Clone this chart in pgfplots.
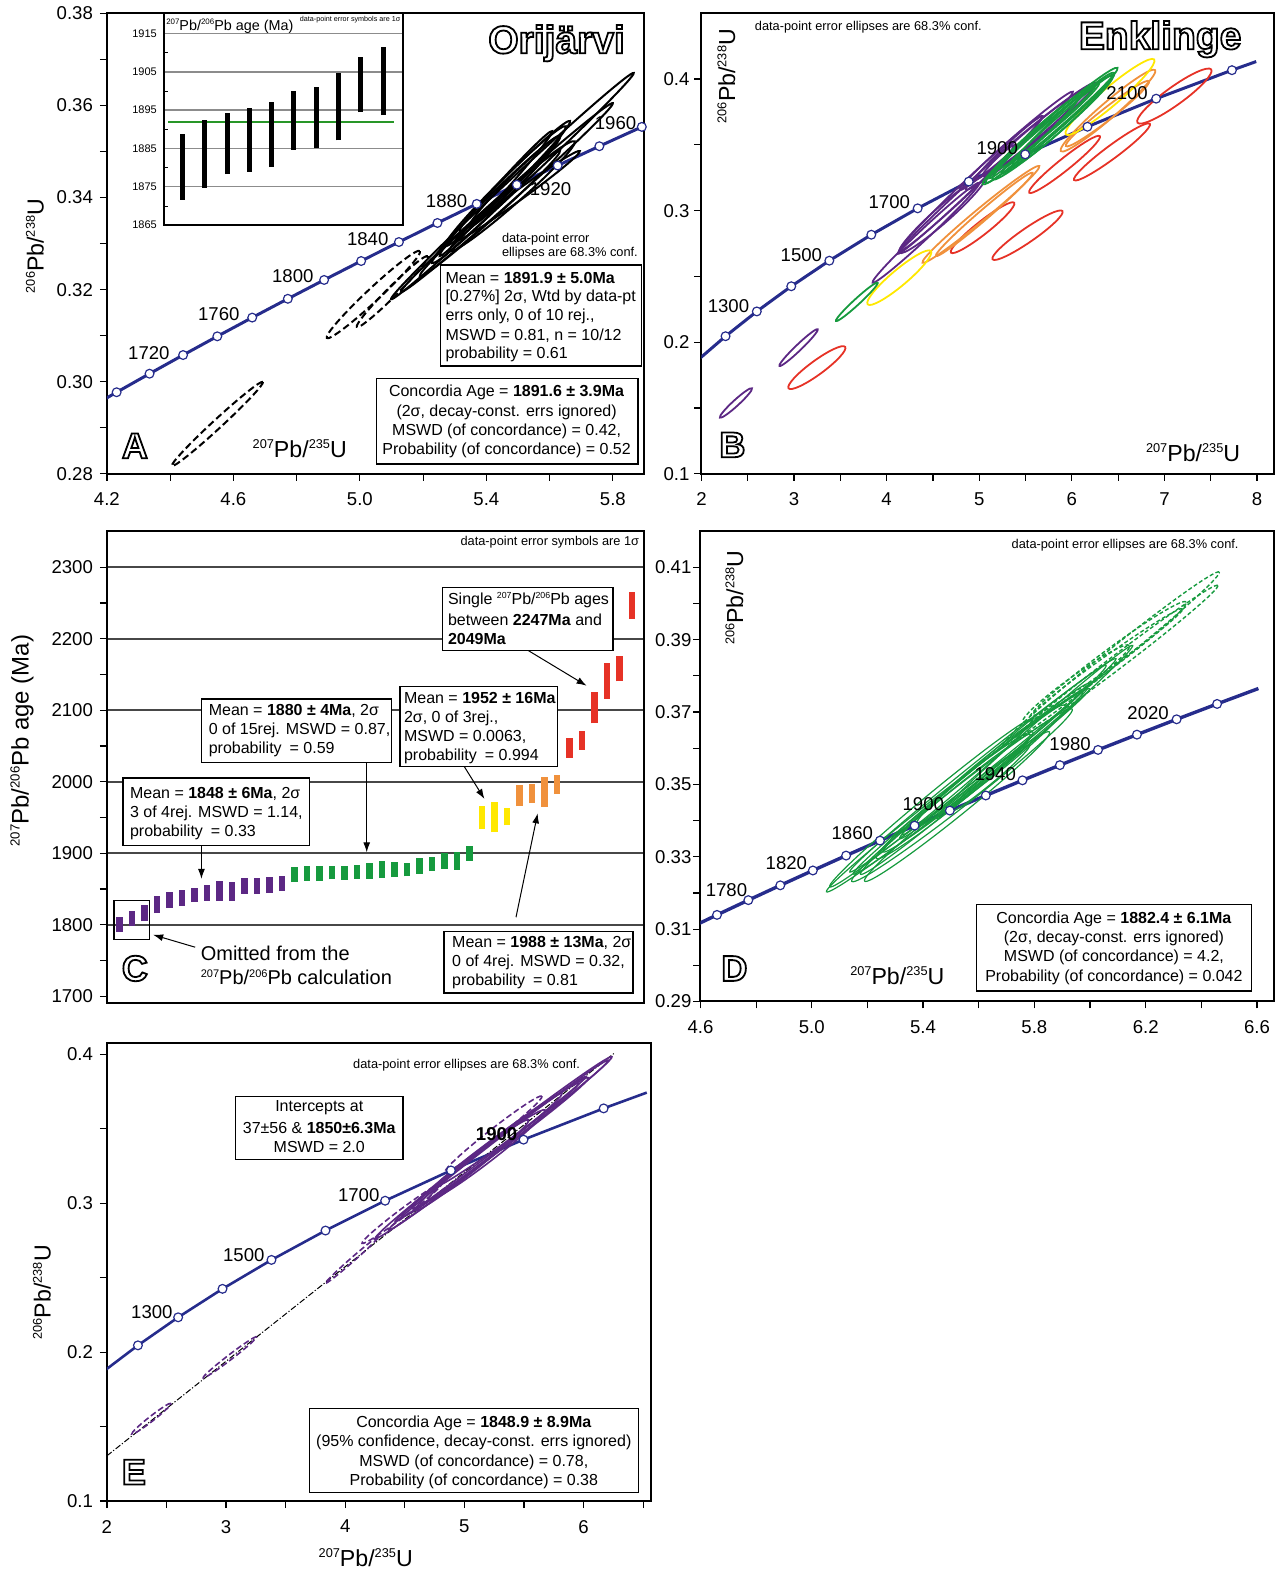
\documentclass[border=0pt]{standalone}
\usepackage{fontspec}
\setmainfont{Liberation Sans}
\usepackage{graphicx}
\usepackage{pgfplots}
\pgfplotsset{compat=1.18}
\usetikzlibrary{arrows.meta}

\definecolor{conc}{RGB}{38,44,140}
\definecolor{ppl}{RGB}{92,40,132}
\definecolor{grn}{RGB}{22,154,62}
\definecolor{ylw}{RGB}{255,232,0}
\definecolor{org}{RGB}{240,145,60}
\definecolor{rd}{RGB}{230,50,38}
\definecolor{igreen}{RGB}{40,150,40}

\newcommand\fs[1]{\fontsize{#1}{#1}\selectfont}
\newcommand\sps[1]{\raisebox{0.38em}{\scalebox{0.55}{#1}}}
% outlined letters (PDF text render mode 1 = stroke only)
\newcommand\outl[4]{%
  \node[font=\fs{#3}\bfseries,inner sep=0] at (#1,#2)
    {\special{pdf:literal direct 1 Tr 0.9 w}#4\special{pdf:literal direct 0 Tr}};}

\pgfdeclareplotmark{nil}{}
\pgfplotsset{
  panel/.style={anchor=south west, scale only axis,
    axis line style={line width=1pt}, tick style={black, line width=0.6pt},
    tick align=outside, major tick length=3.5pt, minor tick length=3.5pt,
    tick pos=left, ticklabel style={font=\fs{9.3}}, xticklabel style={yshift=-2.5pt},
    /pgf/number format/assume math mode=true, /pgf/number format/1000 sep={}},
  % error ellipse: centre in data, half axes a,b in px, angle t in degrees
  ell/.style n args={3}{scatter, only marks, mark=nil, point meta=y,
    visualization depends on={value \thisrow{a}\as\ellA},
    visualization depends on={value \thisrow{b}\as\ellB},
    visualization depends on={value \thisrow{t}\as\ellT},
    scatter/@pre marker code/.code={\pgfscope\pgfsetlinewidth{#1}#2\pgfsetstrokecolor{#3}%
      \pgftransformrotate{\ellT}\pgftransformscale{0.5}%
      \pgfpathellipse{\pgfpointorigin}{\pgfqpoint{\ellA pt}{0pt}}{\pgfqpoint{0pt}{\ellB pt}}%
      \pgfusepath{stroke}\endpgfscope},
    scatter/@post marker code/.code={}},
  concline/.style={color=conc, line width=1.5pt},
  concdots/.style={only marks, mark=*, mark size=2.2pt,
    mark options={fill=white, draw=conc, line width=0.6pt}},
  bars/.style={line width=#1, unbounded coords=jump},
}

\begin{document}
\begin{tikzpicture}
\begin{scope}[x=0.5pt,y=-0.5pt]
\useasboundingbox (0,0) rectangle (1278,1570);
\end{scope}

% ================= A
\begin{axis}[panel, at={(53.5pt,-236.5pt)}, width=269pt, height=230.5pt,
  xmin=4.2, xmax=5.9, ymin=0.28, ymax=0.38,
  xtick={4.2,4.6,5.0,5.4,5.8}, minor xtick={4.4,4.8,5.2,5.6},
  ytick={0.28,0.30,0.32,0.34,0.36,0.38}, minor ytick={0.29,0.31,0.33,0.35,0.37},
  xticklabel style={/pgf/number format/.cd,fixed,fixed zerofill,precision=1},
  yticklabel style={/pgf/number format/.cd,fixed,fixed zerofill,precision=2}]
\addplot[ell={1pt}{}{black}] table[row sep=\\] {
x y a b t\\
5.4822 0.34247 166 6 43\\
5.4648 0.33998 142 6 41.7\\
5.4601 0.34247 85 7 44.8\\
5.4300 0.33954 90 7 44.8\\
5.4822 0.34030 83 8 41.3\\
5.4111 0.33651 94 6 41.8\\
5.4901 0.34464 78 6 45\\
5.4300 0.34085 84 5 48\\
5.4980 0.34030 77 5 35.8\\
5.4901 0.34356 64 6 45\\
};
\addplot[ell={1pt}{\pgfsetdash{{3.5pt}{1.8pt}}{0pt}}{black}] table[row sep=\\] {
x y a b t\\
5.0427 0.31894 63.7 6.5 43.1\\
5.1028 0.31959 50.2 5 45\\
4.5494 0.29085 62 4.5 42.7\\
};
\addplot[concline] coordinates {(4.1287,0.29370)(4.2307,0.29772)(4.3348,0.30175)(4.4409,0.30580)
 (4.5491,0.30986)(4.6595,0.31393)(4.7721,0.31801)(4.8869,0.32210)(5.0040,0.32621)(5.1234,0.33033)
 (5.2452,0.33447)(5.3695,0.33861)(5.4962,0.34277)(5.6254,0.34694)(5.7572,0.35113)(5.8916,0.35533)};
\addplot[concdots] coordinates {(4.2307,0.29772)(4.3348,0.30175)(4.4409,0.30580)
 (4.5491,0.30986)(4.6595,0.31393)(4.7721,0.31801)(4.8869,0.32210)(5.0040,0.32621)(5.1234,0.33033)
 (5.2452,0.33447)(5.3695,0.33861)(5.4962,0.34277)(5.6254,0.34694)(5.7572,0.35113)(5.8916,0.35533)};
\end{axis}

% inset of A
\begin{axis}[anchor=south west, scale only axis, at={(82pt,-112pt)}, width=119.7pt, height=106pt,
  xmin=0.16, xmax=10.9, ymin=1865, ymax=1920.3, xtick=\empty,
  ytick={1865,1875,1885,1895,1905,1915}, minor ytick={1870,1880,1890,1900,1910},
  ymajorgrids, major grid style={black!45, line width=0.7pt},
  tick align=inside, major tick length=0pt, minor tick length=2pt, ytick pos=left,
  tick style={black, line width=0.4pt}, axis line style={line width=0.9pt},
  axis background/.style={fill=white}, yticklabel style={font=\fs{5.5}},
  /pgf/number format/assume math mode=true, /pgf/number format/1000 sep={}]
\addplot[igreen, line width=0.9pt] coordinates {(0.35,1891.9)(10.5,1891.9)};
\addplot[black, bars=2.5pt] coordinates {
 (1,1871.6)(1,1888.7)(1,nan)(2,1874.8)(2,1892.4)(2,nan)(3,1878.3)(3,1894.2)(3,nan)
 (4,1878.9)(4,1895.6)(4,nan)(5,1880.1)(5,1897.0)(5,nan)(6,1884.6)(6,1900.0)(6,nan)
 (7,1885.1)(7,1901.0)(7,nan)(8,1887.1)(8,1904.6)(8,nan)(9,1894.5)(9,1908.9)(9,nan)
 (10,1893.7)(10,1911.6)};
\end{axis}

% ================= B
\begin{axis}[panel, at={(351pt,-236.5pt)}, width=286.5pt, height=230.5pt,
  xmin=2, xmax=8.183, ymin=0.1, ymax=0.45,
  xtick={2,3,4,5,6,7,8}, minor xtick={2.5,3.5,4.5,5.5,6.5,7.5},
  ytick={0.1,0.2,0.3,0.4}, minor ytick={0.15,0.25,0.35},
  yticklabel style={xshift=1pt,/pgf/number format/.cd,fixed,precision=1}]
\addplot[ell={0.9pt}{}{rd}] table[row sep=\\] {
x y a b t\\
7.107 0.38706 45.5 9 35.8\\
6.4335 0.34463 47.2 6.5 36.6\\
5.9209 0.33514 45.3 6 38.7\\
5.0360 0.28705 40.3 6.5 38.3\\
5.5216 0.28135 42.5 7 34.6\\
3.2465 0.18075 35.1 7 36.2\\
};
\addplot[ell={0.9pt}{}{org}] table[row sep=\\] {
x y a b t\\
6.3903 0.37601 62.2 8 40.7\\
6.3849 0.37373 52.8 6 38\\
5.0180 0.29717 75.8 6 39.6\\
5.0539 0.29717 63.8 5 40.7\\
};
\addplot[ell={0.9pt}{}{ppl}] table[row sep=\\] {
x y a b t\\
4.91 0.32058 98.4 6 43.3\\
4.4245 0.28325 73.1 5 43.1\\
5.5576 0.35665 84.1 7 39.4\\
4.6043 0.29717 57.9 8 41.5\\
5.5935 0.35918 67.4 6 40\\
5.3237 0.34779 46 4 43.5\\
4.75 0.3085 80 4 43\\
5.40 0.3530 75 5 41\\
3.0486 0.19593 26.5 3 43.8\\
2.3723 0.15388 21.7 3 42.5\\
};
\addplot[ell={0.9pt}{}{ylw}] table[row sep=\\] {
x y a b t\\
6.4119 0.38639 58 9 40.3\\
4.1367 0.24908 41.4 8 40.1\\
};
\addplot[ell={0.9pt}{}{grn}] table[row sep=\\] {
x y a b t\\
3.6781 0.23073 28.3 3 42.6\\
5.7644 0.36424 89.2 7 40.8\\
5.7914 0.36297 79.2 8 40.7\\
5.9083 0.3693 69 7 42.5\\
5.7374 0.36424 67.4 6 40\\
5.5755 0.35412 63.7 6 42.9\\
5.85 0.3660 75 5 41.5\\
5.68 0.3595 70 4 41\\
};
\addplot[concline] coordinates {(1.9545,0.18606)(2.2603,0.20460)(2.5978,0.22343)(2.9701,0.24256)
 (3.3810,0.26199)(3.8344,0.28172)(4.3348,0.30175)(4.8869,0.32210)(5.4962,0.34277)(6.1685,0.36377)
 (6.9105,0.38509)(7.7292,0.40674)(7.9910,0.41330)};
\addplot[concdots] coordinates {(2.2603,0.20460)(2.5978,0.22343)(2.9701,0.24256)
 (3.3810,0.26199)(3.8344,0.28172)(4.3348,0.30175)(4.8869,0.32210)(5.4962,0.34277)(6.1685,0.36377)
 (6.9105,0.38509)(7.7292,0.40674)};
\end{axis}

% ================= C
\begin{axis}[panel, at={(53.5pt,-501.5pt)}, width=269pt, height=236.5pt,
  xmin=0, xmax=43, ymin=1690, ymax=2351, xtick=\empty,
  ytick={1800,1900,2000,2100,2200,2300}, minor ytick={1750,1850,1950,2050,2150,2250},
  extra y ticks={1700}, extra y tick style={grid=none},
  ymajorgrids, major grid style={black!72, line width=0.9pt}]
\addplot[ppl, bars=3.1pt] coordinates {
 (1,1789.7)(1,1810.7)(1,nan)(2,1797.7)(2,1819.1)(2,nan)(3,1804.7)(3,1828.4)(3,nan)
 (4,1816.3)(4,1840.1)(4,nan)(5,1823.8)(5,1845.7)(5,nan)(6,1826.1)(6,1848.9)(6,nan)
 (7,1831.7)(7,1851.7)(7,nan)(8,1834.0)(8,1855.0)(8,nan)(9,1833.1)(9,1861.0)(9,nan)
 (10,1834.0)(10,1859.7)(10,nan)(11,1843.3)(11,1865.2)(11,nan)(12,1843.3)(12,1865.2)(12,nan)
 (13,1844.3)(13,1866.6)(13,nan)(14,1847.1)(14,1867.6)};
\addplot[grn, bars=3.1pt] coordinates {
 (15,1859.7)(15,1880.6)(15,nan)(16,1861.9)(16,1882.0)(16,nan)(17,1861.0)(17,1882.9)(17,nan)
 (18,1863.4)(18,1882.9)(18,nan)(19,1862.9)(19,1882.9)(19,nan)(20,1864.3)(20,1884.3)(20,nan)
 (21,1864.3)(21,1886.2)(21,nan)(22,1865.7)(22,1889.0)(22,nan)(23,1866.6)(23,1887.6)(23,nan)
 (24,1867.6)(24,1886.7)(24,nan)(25,1871.3)(25,1893.2)(25,nan)(26,1875.0)(26,1895.5)(26,nan)
 (27,1878.3)(27,1900.2)(27,nan)(28,1876.9)(28,1901.6)(28,nan)(29,1889.9)(29,1910.9)};
\addplot[ylw, bars=3.1pt] coordinates {
 (30,1934.2)(30,1966.8)(30,nan)(31,1929.5)(31,1972.4)(31,nan)(32,1938.9)(32,1963.6)};
\addplot[org, bars=3.1pt] coordinates {
 (33,1965.9)(33,1995.7)(33,nan)(34,1970.1)(34,1997.1)(34,nan)(35,1965.4)(35,2006.4)(35,nan)
 (36,1983.1)(36,2009.7)};
\addplot[rd, bars=3.1pt] coordinates {
 (37,2033.4)(37,2061.4)(37,nan)(38,2044.6)(38,2071.7)(38,nan)(39,2081.9)(39,2125.3)(39,nan)
 (40,2115.9)(40,2165.8)(40,nan)(41,2140.6)(41,2176.5)(41,nan)(42,2227.8)(42,2265.0)};
\end{axis}

% ================= D
\begin{axis}[panel, at={(350.5pt,-500.5pt)}, width=287pt, height=235.5pt,
  xmin=4.6, xmax=6.661, ymin=0.29, ymax=0.4201,
  xtick={4.6,5.0,5.4,5.8,6.2,6.6}, minor xtick={4.8,5.2,5.6,6.0,6.4},
  ytick={0.29,0.31,0.33,0.35,0.37,0.39,0.41}, minor ytick={0.30,0.32,0.34,0.36,0.38,0.40},
  xticklabel style={/pgf/number format/.cd,fixed,fixed zerofill,precision=1},
  yticklabel style={xshift=2.5pt,/pgf/number format/.cd,fixed,fixed zerofill,precision=2}]
\addplot[ell={0.6pt}{}{grn}] table[row sep=\\] {
x y a b t\\
5.5252 0.34839 166.3 8 37.7\\
5.5222 0.34388 118.9 9 38.9\\
5.4295 0.34493 132 8 39.6\\
5.615 0.35529 170.7 7 38.7\\
5.615 0.35345 128 8 38.7\\
5.5132 0.347 100.7 9 38.9\\
5.6868 0.35897 134.9 7 40\\
5.6449 0.35529 96 10 38.7\\
5.6389 0.35161 52 5 39.8\\
5.8005 0.3645 131 6 41.4\\
5.57 0.3510 150 7 38.5\\
5.48 0.3445 110 7 39.5\\
5.66 0.3570 120 6 39\\
5.54 0.3470 140 10 38\\
};
\addplot[ell={0.7pt}{\pgfsetdash{{2pt}{1.2pt}}{0pt}}{grn}] table[row sep=\\] {
x y a b t\\
6.0758 0.38476 138.7 8 38.7\\
6.0967 0.38384 126.7 7 37.2\\
6.0638 0.3843 97.7 9 36.7\\
6.0638 0.38384 92 6 35.4\\
5.9501 0.37785 65.7 8 35.7\\
};
\addplot[concline, line width=1.7pt] coordinates {(4.5491,0.30986)(4.6595,0.31393)(4.7721,0.31801)
 (4.8869,0.32210)(5.0040,0.32621)(5.1234,0.33033)(5.2452,0.33447)(5.3695,0.33861)(5.4962,0.34277)
 (5.6254,0.34694)(5.7572,0.35113)(5.8916,0.35533)(6.0287,0.35954)(6.1685,0.36376)(6.3111,0.36800)
 (6.4566,0.37225)(6.6049,0.37651)};
\addplot[concdots] coordinates {(4.6595,0.31393)(4.7721,0.31801)
 (4.8869,0.32210)(5.0040,0.32621)(5.1234,0.33033)(5.2452,0.33447)(5.3695,0.33861)(5.4962,0.34277)
 (5.6254,0.34694)(5.7572,0.35113)(5.8916,0.35533)(6.0287,0.35954)(6.1685,0.36376)(6.3111,0.36800)
 (6.4566,0.37225)};
\end{axis}

% ================= E
\begin{axis}[panel, at={(53.5pt,-750.5pt)}, width=272.5pt, height=229pt,
  xmin=2, xmax=6.57, ymin=0.1, ymax=0.4074,
  xtick={2,3,4,5,6}, minor xtick={2.5,3.5,4.5,5.5,6.5},
  ytick={0.1,0.2,0.3,0.4}, minor ytick={0.15,0.25,0.35},
  yticklabel style={/pgf/number format/.cd,fixed,precision=1}]
\addplot[black, line width=0.5pt, dash pattern=on 3pt off 1pt on 0.6pt off 1pt] coordinates {(2,0.1304)(6.26,0.4010)};
\addplot[ell={0.8pt}{}{ppl}] table[row sep=\\] {
x y a b t\\
5.2453 0.33747 149.2 6 37.5\\
5.2873 0.33915 139 5 37.7\\
5.1475 0.33244 101 6 37.6\\
5.1894 0.33244 73.7 7 37.6\\
5.0637 0.32573 72.4 6 38.5\\
5.3572 0.34586 88.3 5 35.8\\
5.22 0.3365 120 4 37.2\\
5.30 0.3405 110 6 36.5\\
};
\addplot[ell={0.8pt}{\pgfsetdash{{3pt}{1.5pt}}{0pt}}{ppl}] table[row sep=\\] {
x y a b t\\
5.2453 0.34664 61.4 5 38\\
4.4766 0.29328 50 4 36.9\\
4.0573 0.26197 35.5 2 41.2\\
3.0324 0.19659 33.7 2.5 37.5\\
2.374 0.15537 24.9 2.5 38\\
};
\addplot[concline, line width=1.3pt] coordinates {(1.9545,0.18606)(2.2603,0.20460)(2.5978,0.22343)
 (2.9701,0.24256)(3.3810,0.26199)(3.8344,0.28172)(4.3348,0.30175)(4.8869,0.32210)(5.4962,0.34277)
 (6.1685,0.36377)(6.5304,0.37438)};
\addplot[concdots] coordinates {(2.2603,0.20460)(2.5978,0.22343)
 (2.9701,0.24256)(3.3810,0.26199)(3.8344,0.28172)(4.3348,0.30175)(4.8869,0.32210)(5.4962,0.34277)
 (6.1685,0.36377)};
\end{axis}

% ================= annotations (pixel grid of the page)
\begin{scope}[x=0.5pt,y=-0.5pt,
  lab/.style={font=\fs{9.3},inner sep=0},
  bx/.style={font=\fs{8},inner sep=0},
  tiny/.style={font=\fs{6.4},inner sep=0},
  big/.style={font=\fs{11.6},inner sep=0},
  frame/.style={draw=black,fill=white,line width=0.7pt},
  arr/.style={-{Latex[length=5pt,width=3.5pt]},line width=0.5pt}]
% A
\outl{557}{42}{19.5}{Orijärvi}
\node[lab] at (149,352) {1720}; \node[lab] at (219,313) {1760}; \node[lab] at (293,275) {1800};
\node[lab] at (368,238) {1840}; \node[lab] at (447,200) {1880}; \node[lab] at (551,188) {1920};
\node[lab] at (616,122) {1960};
\node[tiny,anchor=west] at (502,238) {data-point error};
\node[tiny,anchor=west] at (502,252) {ellipses are 68.3\% conf.};
\draw[frame] (441,264) rectangle (642,365);
\node[bx,anchor=west] at (445.5,276.7) {Mean = \textbf{1891.9 ± 5.0Ma}};
\node[bx,anchor=west] at (445.5,296) {[0.27\%] 2σ, Wtd by data-pt};
\node[bx,anchor=west] at (445.5,315.7) {errs only, 0 of 10 rej.,};
\node[bx,anchor=west] at (445.5,335) {MSWD = 0.81, n = 10/12};
\node[bx,anchor=west] at (445.5,353.3) {probability = 0.61};
\draw[frame] (376.5,377.7) rectangle (638.6,463.3);
\node[bx] at (507,391.7) {Concordia Age = \textbf{1891.6 ± 3.9Ma}};
\node[bx] at (507,411) {(2σ, decay-const. errs ignored)};
\node[bx] at (507,430) {MSWD (of concordance) = 0.42,};
\node[bx] at (507,449) {Probability (of concordance) = 0.52};
\outl{135}{445}{18}{A}
\node[big] at (300,448) {\sps{207}Pb/\sps{235}U};
\node[big,rotate=90] at (35,245) {\sps{206}Pb/\sps{238}U};
\node[font=\fs{7.2},anchor=west,inner sep=0] at (166,25) {\sps{207}Pb/\sps{206}Pb age (Ma)};
\node[font=\fs{3.6},anchor=east,inner sep=0] at (401,18) {data-point error symbols are 1σ};
% B
\outl{1161}{38}{19.5}{Enklinge}
\node[tiny] at (869,26) {data-point error ellipses are 68.3\% conf.};
\outl{733}{444}{18}{B}
\node[big] at (1194,452) {\sps{207}Pb/\sps{235}U};
\node[big,rotate=90] at (727,75) {\sps{206}Pb/\sps{238}U};
\node[lab] at (729,305) {1300}; \node[lab] at (802,254) {1500}; \node[lab] at (890,201) {1700};
\node[lab] at (998,147) {1900}; \node[lab] at (1128,92) {2100};
% C
\outl{135}{968}{18}{C}
\node[tiny,anchor=east] at (640,541) {data-point error symbols are 1σ};
\node[font=\fs{12},rotate=90,inner sep=0] at (22,740) {\sps{207}Pb/\sps{206}Pb age (Ma)};
\draw[frame] (443,587) rectangle (613.5,649.5);
\node[bx,anchor=west] at (448,599.3) {Single \sps{207}Pb/\sps{206}Pb ages};
\node[bx,anchor=west] at (448,619.3) {between \textbf{2247Ma} and};
\node[bx,anchor=west] at (448,638.3) {\textbf{2049Ma}};
\draw[frame] (400.4,685.7) rectangle (558.1,765.7);
\node[bx,anchor=west] at (404,697.7) {Mean = \textbf{1952 ± 16Ma}};
\node[bx,anchor=west] at (404,717.3) {2σ, 0 of 3rej.,};
\node[bx,anchor=west] at (404,736.7) {MSWD = 0.0063,};
\node[bx,anchor=west] at (404,755.7) {probability\enspace = 0.994};
\draw[frame] (201.6,698.3) rectangle (391.6,761.7);
\node[bx,anchor=west] at (208.6,710.7) {Mean = \textbf{1880 ± 4Ma}, 2σ};
\node[bx,anchor=west] at (208.6,730) {0 of 15rej. MSWD = 0.87,};
\node[bx,anchor=west] at (208.6,749) {probability\enspace = 0.59};
\draw[frame] (123.1,777.3) rectangle (309.6,845);
\node[bx,anchor=west] at (129.8,793.3) {Mean = \textbf{1848 ± 6Ma}, 2σ};
\node[bx,anchor=west] at (129.8,812.7) {3 of 4rej. MSWD = 1.14,};
\node[bx,anchor=west] at (129.8,831.7) {probability\enspace = 0.33};
\draw[frame] (444.5,931) rectangle (633.5,992.7);
\node[bx,anchor=west] at (452.2,942.7) {Mean = \textbf{1988 ± 13Ma}, 2σ};
\node[bx,anchor=west] at (452.2,962) {0 of 4rej. MSWD = 0.32,};
\node[bx,anchor=west] at (452.2,981) {probability\enspace = 0.81};
\draw[line width=0.6pt] (114,900) rectangle (150,939);
\node[font=\fs{10},anchor=west,inner sep=0] at (200.6,953.3) {Omitted from the};
\node[font=\fs{10},anchor=west,inner sep=0] at (200.6,976.7) {\sps{207}Pb/\sps{206}Pb calculation};
\draw[arr] (529,650) -- (587,685);
\draw[arr] (464.5,765.7) -- (484.8,798.3);
\draw[arr] (367,761.7) -- (367,851.7);
\draw[arr] (201.6,845) -- (201.6,878.3);
\draw[arr] (516.4,916.7) -- (538.1,812.7);
\draw[arr] (195.3,946.7) -- (153.3,934.3);
% D
\node[tiny] at (1126,544) {data-point error ellipses are 68.3\% conf.};
\node[big,rotate=90] at (735,597) {\sps{206}Pb/\sps{238}U};
\node[big] at (898,975) {\sps{207}Pb/\sps{235}U};
\outl{735}{968}{18}{D}
\draw[frame] (977.2,903.8) rectangle (1252.3,990.4);
\node[bx] at (1114.8,918.7) {Concordia Age = \textbf{1882.4 ± 6.1Ma}};
\node[bx] at (1114.8,937.5) {(2σ, decay-const. errs ignored)};
\node[bx] at (1114.8,956.7) {MSWD (of concordance) = 4.2,};
\node[bx] at (1114.8,976.5) {Probability (of concordance) = 0.042};
\node[lab] at (727,890) {1780}; \node[lab] at (787,863) {1820}; \node[lab] at (853,833) {1860};
\node[lab] at (924,803) {1900}; \node[lab] at (996,773) {1940}; \node[lab] at (1071,743) {1980};
\node[lab] at (1149,712) {2020};
% E
\node[tiny] at (467,1065) {data-point error ellipses are 68.3\% conf.};
\draw[frame] (235.7,1096.3) rectangle (403.3,1159);
\node[bx] at (319.5,1107.3) {Intercepts at};
\node[bx] at (319.5,1127.3) {37±56 \& \textbf{1850±6.3Ma}};
\node[bx] at (319.5,1146.3) {MSWD = 2.0};
\draw[frame] (309.7,1408.2) rectangle (638.7,1492.5);
\node[bx] at (474.2,1422.9) {Concordia Age = \textbf{1848.9 ± 8.9Ma}};
\node[bx] at (474.2,1442.3) {(95\% confidence, decay-const. errs ignored)};
\node[bx] at (474.2,1462.1) {MSWD (of concordance) = 0.78,};
\node[bx] at (474.2,1481.6) {Probability (of concordance) = 0.38};
\outl{134}{1472}{18}{E}
\node[big] at (366,1558) {\sps{207}Pb/\sps{235}U};
\node[big,rotate=90] at (42,1292) {\sps{206}Pb/\sps{238}U};
\node[lab] at (152,1312) {1300}; \node[lab] at (244,1255) {1500}; \node[lab] at (359,1195) {1700};
\node[lab] at (497,1134) {\textbf{1900}};
\end{scope}
\end{tikzpicture}
\end{document}
